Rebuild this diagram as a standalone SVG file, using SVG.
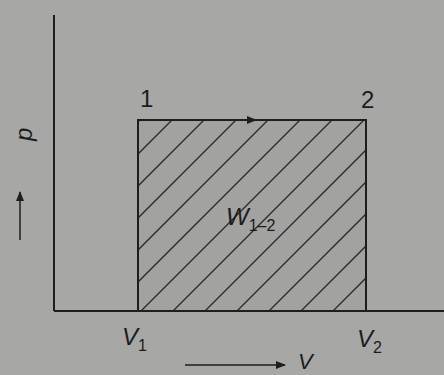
<svg xmlns="http://www.w3.org/2000/svg" width="444" height="375" viewBox="0 0 444 375">
<style>
.ln{stroke:#1e1e1e;stroke-width:2;fill:none}
.h{stroke:#2a2a2a;stroke-width:1.3}
.t{font-family:"Liberation Sans",Arial,sans-serif;fill:#1c1c1c}
.i{font-style:italic}
.s{font-style:normal}
</style>
<defs>
<marker id="ah" viewBox="0 0 10 10" refX="9" refY="5" markerWidth="14" markerHeight="10" markerUnits="userSpaceOnUse" orient="auto"><path d="M0,1 L10,5 L0,9 Z" fill="#1e1e1e"/></marker>
<clipPath id="rc"><rect x="138" y="120" width="228" height="191"/></clipPath>
</defs>
<rect width="444" height="375" fill="#a7a7a5"/>
<g id="area">
<rect x="138" y="120" width="228" height="191" fill="#a2a2a0"/>
<g clip-path="url(#rc)" class="h">
<line x1="260" y1="0" x2="0" y2="260"/>
<line x1="292" y1="0" x2="0" y2="292"/>
<line x1="324" y1="0" x2="0" y2="324"/>
<line x1="356" y1="0" x2="0" y2="356"/>
<line x1="388" y1="0" x2="0" y2="388"/>
<line x1="420" y1="0" x2="0" y2="420"/>
<line x1="452" y1="0" x2="0" y2="452"/>
<line x1="484" y1="0" x2="0" y2="484"/>
<line x1="516" y1="0" x2="0" y2="516"/>
<line x1="548" y1="0" x2="0" y2="548"/>
<line x1="580" y1="0" x2="0" y2="580"/>
<line x1="612" y1="0" x2="0" y2="612"/>
<line x1="644" y1="0" x2="0" y2="644"/>
<line x1="676" y1="0" x2="0" y2="676"/>
</g>
<rect x="138" y="120" width="228" height="191" class="ln"/>
</g>
<g id="connectors">
<line x1="54" y1="15" x2="54" y2="311" class="ln"/>
<line x1="54" y1="311" x2="444" y2="311" class="ln"/>
<line x1="138" y1="120" x2="256" y2="120" class="ln" marker-end="url(#ah)"/>
<line x1="20" y1="240" x2="20" y2="192" stroke="#1e1e1e" stroke-width="1.5" marker-end="url(#ah)"/>
<line x1="185" y1="365" x2="285" y2="365" stroke="#1e1e1e" stroke-width="1.5" marker-end="url(#ah)"/>
</g>
<g id="labels">
<text x="140" y="107" class="t" font-size="24">1</text>
<text x="361" y="108" class="t" font-size="24">2</text>
<text x="226" y="225" class="t i" font-size="24">W<tspan class="s" font-size="16" dy="6">1–2</tspan></text>
<text x="122" y="345" class="t i" font-size="24">V<tspan class="s" font-size="16" dy="6">1</tspan></text>
<text x="357" y="347" class="t i" font-size="24">V<tspan class="s" font-size="16" dy="6">2</tspan></text>
<text x="298" y="369" class="t i" font-size="22">V</text>
<text transform="translate(32,141) rotate(-90)" class="t i" font-size="24">p</text>
</g>
</svg>
